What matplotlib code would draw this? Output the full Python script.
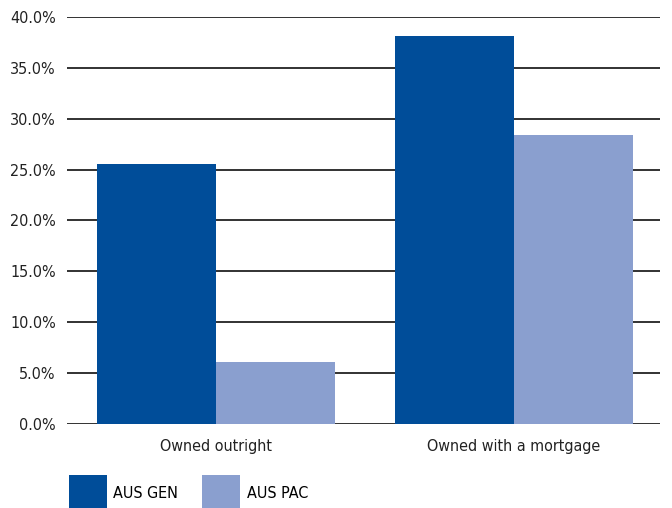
import numpy as np
import matplotlib.pyplot as plt

categories = ['Owned outright', 'Owned with a mortgage']
aus_gen = [25.6, 38.1]
aus_pac = [6.1, 28.4]
series_names = ['AUS GEN', 'AUS PAC']
yticks = [0, 5, 10, 15, 20, 25, 30, 35, 40]

plt.rcParams['font.family'] = ['DejaVu Sans']
plt.rcParams['font.stretch'] = 'condensed'
plt.rcParams['font.size'] = 11.5

c_gen = '#004d99'
c_pac = '#8a9fcf'
c_txt = '#222222'

fig = plt.figure(figsize=(6.72, 5.08), dpi=100)
ax = fig.add_axes([67/672, 84/508, 593/672, 407/508])

x = np.arange(len(categories))
w = 0.4
b1 = ax.bar(x - w/2, aus_gen, w, color=c_gen, label=series_names[0], zorder=3)
b2 = ax.bar(x + w/2, aus_pac, w, color=c_pac, label=series_names[1], zorder=3)

ax.set_xlim(-0.5, 1.49)
ax.set_ylim(0, 40)
ax.set_yticks(yticks)
ax.set_yticklabels([f'{v:.1f}%' for v in yticks], color=c_txt)
ax.set_xticks(x)
ax.set_xticklabels(categories, color=c_txt)
ax.tick_params(length=0, axis='y', pad=8)
ax.tick_params(length=0, axis='x', pad=11)
for v in yticks:
    ax.axhline(v, color=c_txt, lw=1.3, zorder=1)
for s in ax.spines.values():
    s.set_visible(False)

fig.legend(handles=[b1, b2], loc='lower left', bbox_to_anchor=(69/672, -5/508),
           ncol=2, frameon=False, borderpad=0, borderaxespad=0,
           handlelength=2.38, handleheight=3.33,
           columnspacing=1.5, handletextpad=0.4, fontsize=11.5)

fig.savefig('out.png', dpi=100)
